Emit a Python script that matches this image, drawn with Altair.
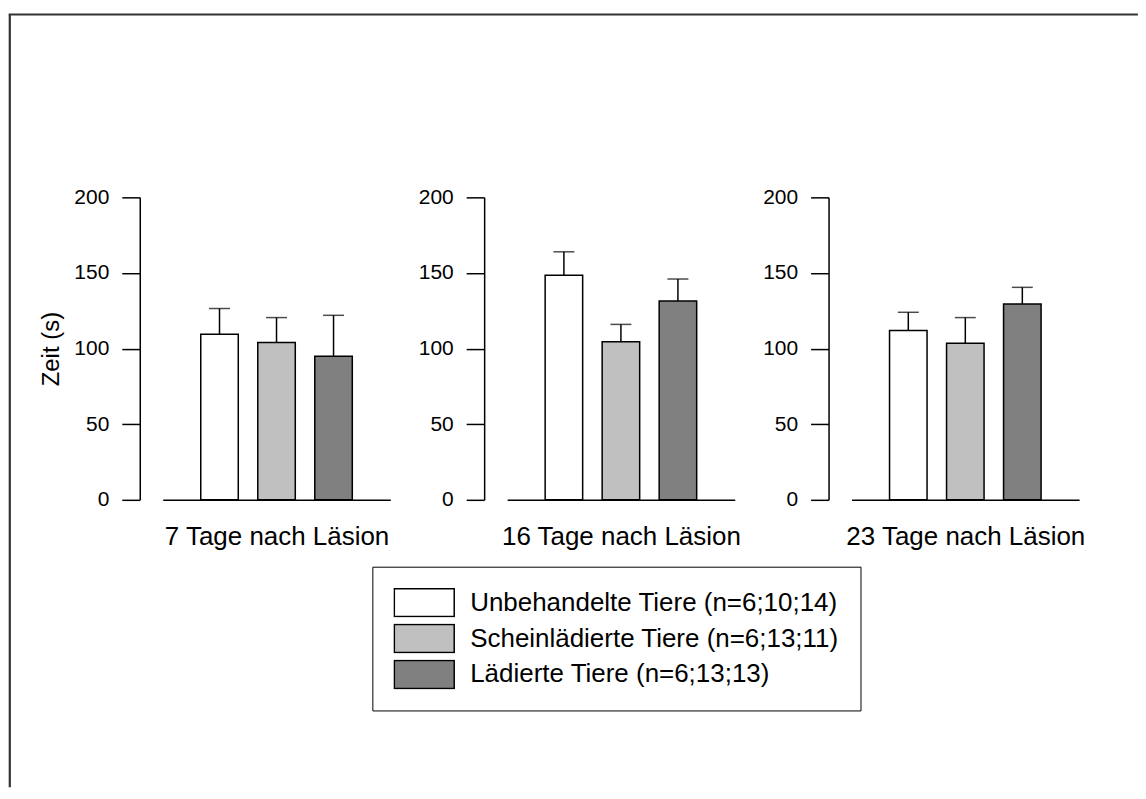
import altair as alt
import pandas as pd

FONT = "Liberation Sans"

days = ["7 Tage nach Läsion", "16 Tage nach Läsion", "23 Tage nach Läsion"]
groups = [
    "Unbehandelte Tiere (n=6;10;14)",
    "Scheinlädierte Tiere (n=6;13;11)",
    "Lädierte Tiere (n=6;13;13)",
]
colors = ["#ffffff", "#c0c0c0", "#808080"]

mean_unbehandelt = [109.5, 148.5, 112.0]
mean_schein = [104.0, 104.5, 103.5]
mean_laediert = [95.0, 131.5, 129.5]

sem_unbehandelt = [17.0, 15.5, 12.0]
sem_schein = [16.5, 11.5, 17.0]
sem_laediert = [27.0, 14.5, 11.0]

y_ticks = [0, 50, 100, 150, 200]

rows = []
for g, means, sems in zip(groups,
                          [mean_unbehandelt, mean_schein, mean_laediert],
                          [sem_unbehandelt, sem_schein, sem_laediert]):
    for di, d in enumerate(days):
        rows.append({"day": d, "group": g, "mean": means[di], "sem": sems[di]})
df = pd.DataFrame(rows)
df["top"] = df["mean"] + df["sem"]

legend = alt.Legend(
    title=None, orient="none", legendX=364, legendY=554, direction="vertical",
    symbolType="M-1,-0.467H1V0.467H-1Z", symbolSize=3600,
    symbolStrokeColor="black", symbolStrokeWidth=1.5, symbolOpacity=1,
    clipHeight=30, rowPadding=6,
    labelFontSize=26, labelFont=FONT, labelColor="black", labelOffset=15, labelLimit=700,
    padding=21, strokeColor="black", fillColor="white",
)


def panel(i, day):
    yaxis = alt.Axis(
        values=y_ticks, tickSize=18, labelPadding=13, offset=23, grid=False,
        labelFontSize=21, titleFontSize=24, titleFont=FONT, titleFontWeight="normal",
        titleColor="black", titlePadding=10,
        title="Zeit (s)" if i == 0 else "",
    )
    yscale = alt.Scale(domain=[0, 200], nice=False)
    base = alt.Chart(df).transform_filter(alt.datum.day == day).encode(
        x=alt.X(
            "group:N", sort=groups,
            scale=alt.Scale(paddingInner=0.342, paddingOuter=0.667),
            axis=alt.Axis(labels=False, ticks=False, title=day, titlePadding=24),
        )
    )
    bars = base.mark_bar(stroke="black", strokeWidth=1.5).encode(
        y=alt.Y("mean:Q", scale=yscale, axis=yaxis),
        color=alt.Color("group:N", sort=groups,
                        scale=alt.Scale(domain=groups, range=colors), legend=legend),
    )
    rule = base.mark_rule(color="black", strokeWidth=1.5).encode(
        y=alt.Y("top:Q", scale=yscale, axis=yaxis), y2="mean:Q"
    )
    cap = base.mark_tick(color="black", thickness=1.5, size=21).encode(
        y=alt.Y("top:Q", scale=yscale, axis=yaxis)
    )
    return alt.layer(bars, rule, cap).properties(width=228, height=303)


dummy = pd.DataFrame({"v": [0]})


def blank(w, h, stroke=False):
    c = alt.Chart(dummy).transform_filter(alt.datum.v > 1).mark_point(opacity=0).encode(
        x=alt.value(0), y=alt.value(0))
    if stroke:
        return c.properties(width=w, height=h,
                            view=alt.ViewBackground(stroke="#333333", strokeWidth=1.2))
    return c.properties(width=w, height=h)


panels = alt.hconcat(*[panel(i, d) for i, d in enumerate(days)], spacing=117, bounds="flush")
body = alt.vconcat(blank(1, 100), panels, spacing=83, bounds="flush")
row = alt.hconcat(blank(1, 773, stroke=True), body, spacing=153, bounds="flush")
chart = alt.vconcat(blank(1130, 1, stroke=True), row, spacing=0, bounds="flush").properties(
    padding={"left": 0, "top": 4, "right": 0, "bottom": 0}
).configure(font=FONT).configure_view(strokeWidth=0).configure_axis(
    domainColor="black", domainWidth=1.5, tickColor="black", tickWidth=1.5,
    labelFont=FONT, labelColor="black", labelFontSize=21,
    titleFont=FONT, titleColor="black", titleFontWeight="normal", titleFontSize=23,
).configure_axisX(titleFontSize=26)

chart.save("out.html", embed_options={"renderer": "svg", "actions": False})
